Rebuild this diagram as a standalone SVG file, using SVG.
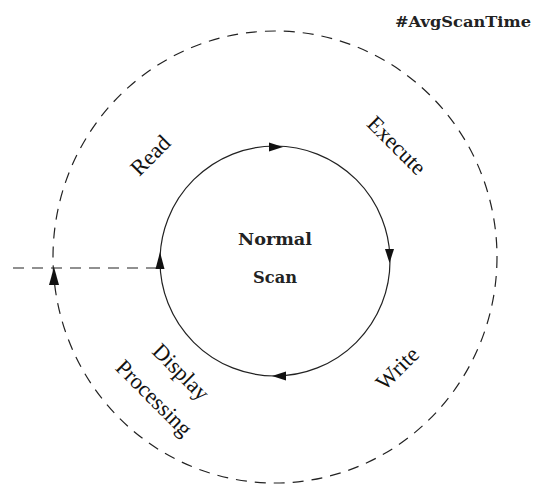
<svg xmlns="http://www.w3.org/2000/svg" width="538" height="488" viewBox="0 0 538 488">
<style>
.lbl{font-family:"Liberation Serif","Times New Roman",serif;font-size:22.5px;fill:#111;text-anchor:middle}
.bold{font-family:"DejaVu Serif","Liberation Serif",serif;font-weight:bold;fill:#222;text-anchor:middle}
.solid{fill:none;stroke:#222;stroke-width:1.2}
.dash{fill:none;stroke:#222;stroke-width:1.2;stroke-dasharray:11 8}
.ah{fill:#111}
</style>
<rect width="538" height="488" fill="#fff"/>
<g id="connectors">
<ellipse class="dash" cx="275" cy="257" rx="222" ry="226"/>
<line class="dash" x1="13" y1="268" x2="160" y2="268" stroke-dasharray="10 7"/>
<circle class="solid" cx="275" cy="261" r="115"/>
<polygon class="ah" points="283,147 269,142.5 269,151.5"/>
<polygon class="ah" points="389.5,263 385,249 394,249"/>
<polygon class="ah" points="272,376 286,371.5 286,380.5"/>
<polygon class="ah" points="160,252 155.5,269 164.5,269"/>
<polygon class="ah" points="54,267 49,285 59,285"/>
</g>
<g id="title"><text class="bold" x="463" y="27" font-size="14" textLength="136" lengthAdjust="spacingAndGlyphs">#AvgScanTime</text></g>
<g id="center"><text class="bold" x="275" y="245" font-size="17" textLength="74" lengthAdjust="spacingAndGlyphs">Normal</text>
<text class="bold" x="275" y="283" font-size="17" textLength="44" lengthAdjust="spacingAndGlyphs">Scan</text></g>
<g id="read" transform="translate(150,155) rotate(-45)"><text class="lbl" x="0" y="8">Read</text></g>
<g id="execute" transform="translate(397,145) rotate(45)"><text class="lbl" x="0" y="8">Execute</text></g>
<g id="write" transform="translate(397,368) rotate(-45)"><text class="lbl" x="0" y="8">Write</text></g>
<g id="display" transform="translate(180,373) rotate(45)"><text class="lbl" x="0" y="6">Display</text></g>
<g id="processing" transform="translate(153,399) rotate(45)"><text class="lbl" x="0" y="6">Processing</text></g>
</svg>
